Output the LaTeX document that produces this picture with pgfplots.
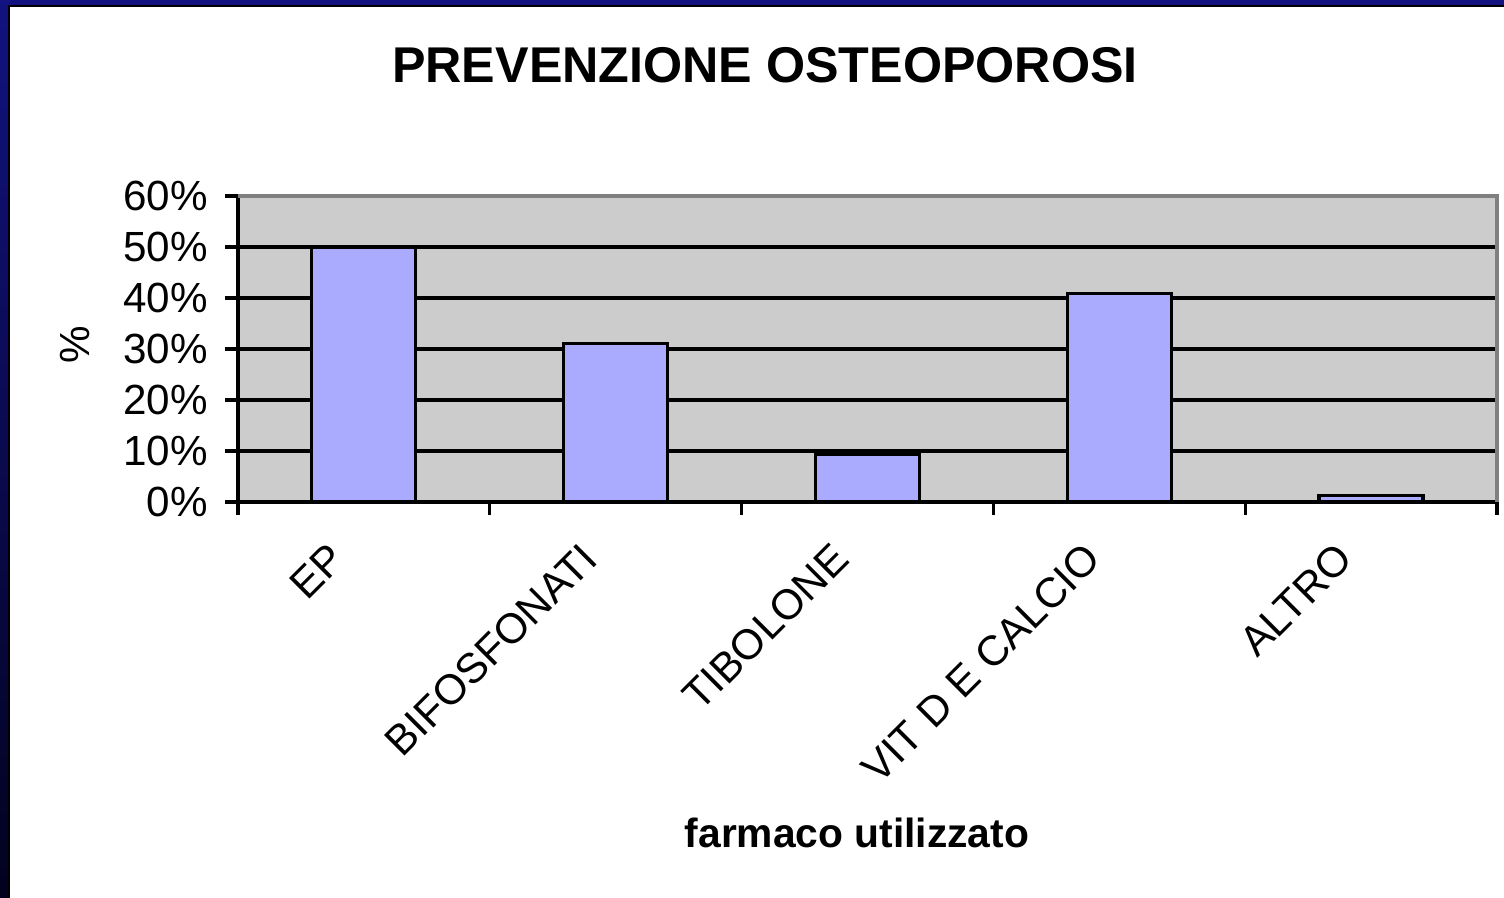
\documentclass[border=0pt]{standalone}
\usepackage{fontspec}
\setmainfont{Liberation Sans}
\usepackage{pgfplots}
\pgfplotsset{compat=1.18}
\definecolor{barfill}{RGB}{170,170,255}
\definecolor{plotbg}{RGB}{204,204,204}
\definecolor{navytop}{RGB}{18,18,128}
\definecolor{navybot}{RGB}{2,2,30}

\begin{document}
\begin{tikzpicture}[x=0.1mm,y=0.1mm]
\useasboundingbox (0,0) rectangle (1504,898);
% dark blue frame of the slide
\shade[top color=navytop,bottom color=navybot] (0,0) rectangle (1504,898);
\fill[white] (10,0) rectangle (1504,892);
\draw[black,line width=0.6pt] (9,0) -- (9,892) -- (1504,892);

\node[font=\bfseries\fontsize{14.3}{17}\selectfont] at (765,833) {PREVENZIONE OSTEOPOROSI};
\node[font=\bfseries\fontsize{11.6}{14}\selectfont] at (857,65) {farmaco utilizzato};
\node[rotate=90,font=\fontsize{12}{14}\selectfont] at (75,553) {\%};

\begin{axis}[
  at={(23.8mm,39.6mm)}, anchor=south west,
  scale only axis, width=125.9mm, height=30.6mm,
  xmin=0, xmax=5, ymin=0, ymax=60,
  axis lines=left, axis line style={-, line width=0.9pt},
  axis background/.style={fill=plotbg},
  ybar, bar width=0.413,
  xtick={0.5,1.5,2.5,3.5,4.5},
  xticklabels={EP,BIFOSFONATI,TIBOLONE,VIT D E CALCIO,ALTRO},
  major x tick style={draw=none},
  minor xtick={0,1,2,3,4,5},
  ytick={0,10,20,30,40,50,60},
  yticklabels={0\%,10\%,20\%,30\%,40\%,50\%,60\%},
  tick align=outside,
  major tick length=1.3mm, minor tick length=1.3mm,
  tick style={black, line width=0.9pt},
  ymajorgrids, grid style={black, line width=0.9pt},
  xticklabel style={xshift=-3.7mm, yshift=-2mm, rotate=45, anchor=north east, font=\fontsize{12}{14}\selectfont, inner sep=1pt},
  yticklabel style={xshift=-0.5mm, font=\fontsize{12}{14}\selectfont},
  clip=false,
]
\addplot[fill=barfill, draw=black, line width=0.9pt]
  coordinates {(0.5,50) (1.5,31) (2.5,9.3) (3.5,40.8) (4.5,1.2)};
\draw[gray, line width=0.9pt] (rel axis cs:0,1) -- (rel axis cs:1,1) -- (rel axis cs:1,0);
\end{axis}
\end{tikzpicture}
\end{document}
